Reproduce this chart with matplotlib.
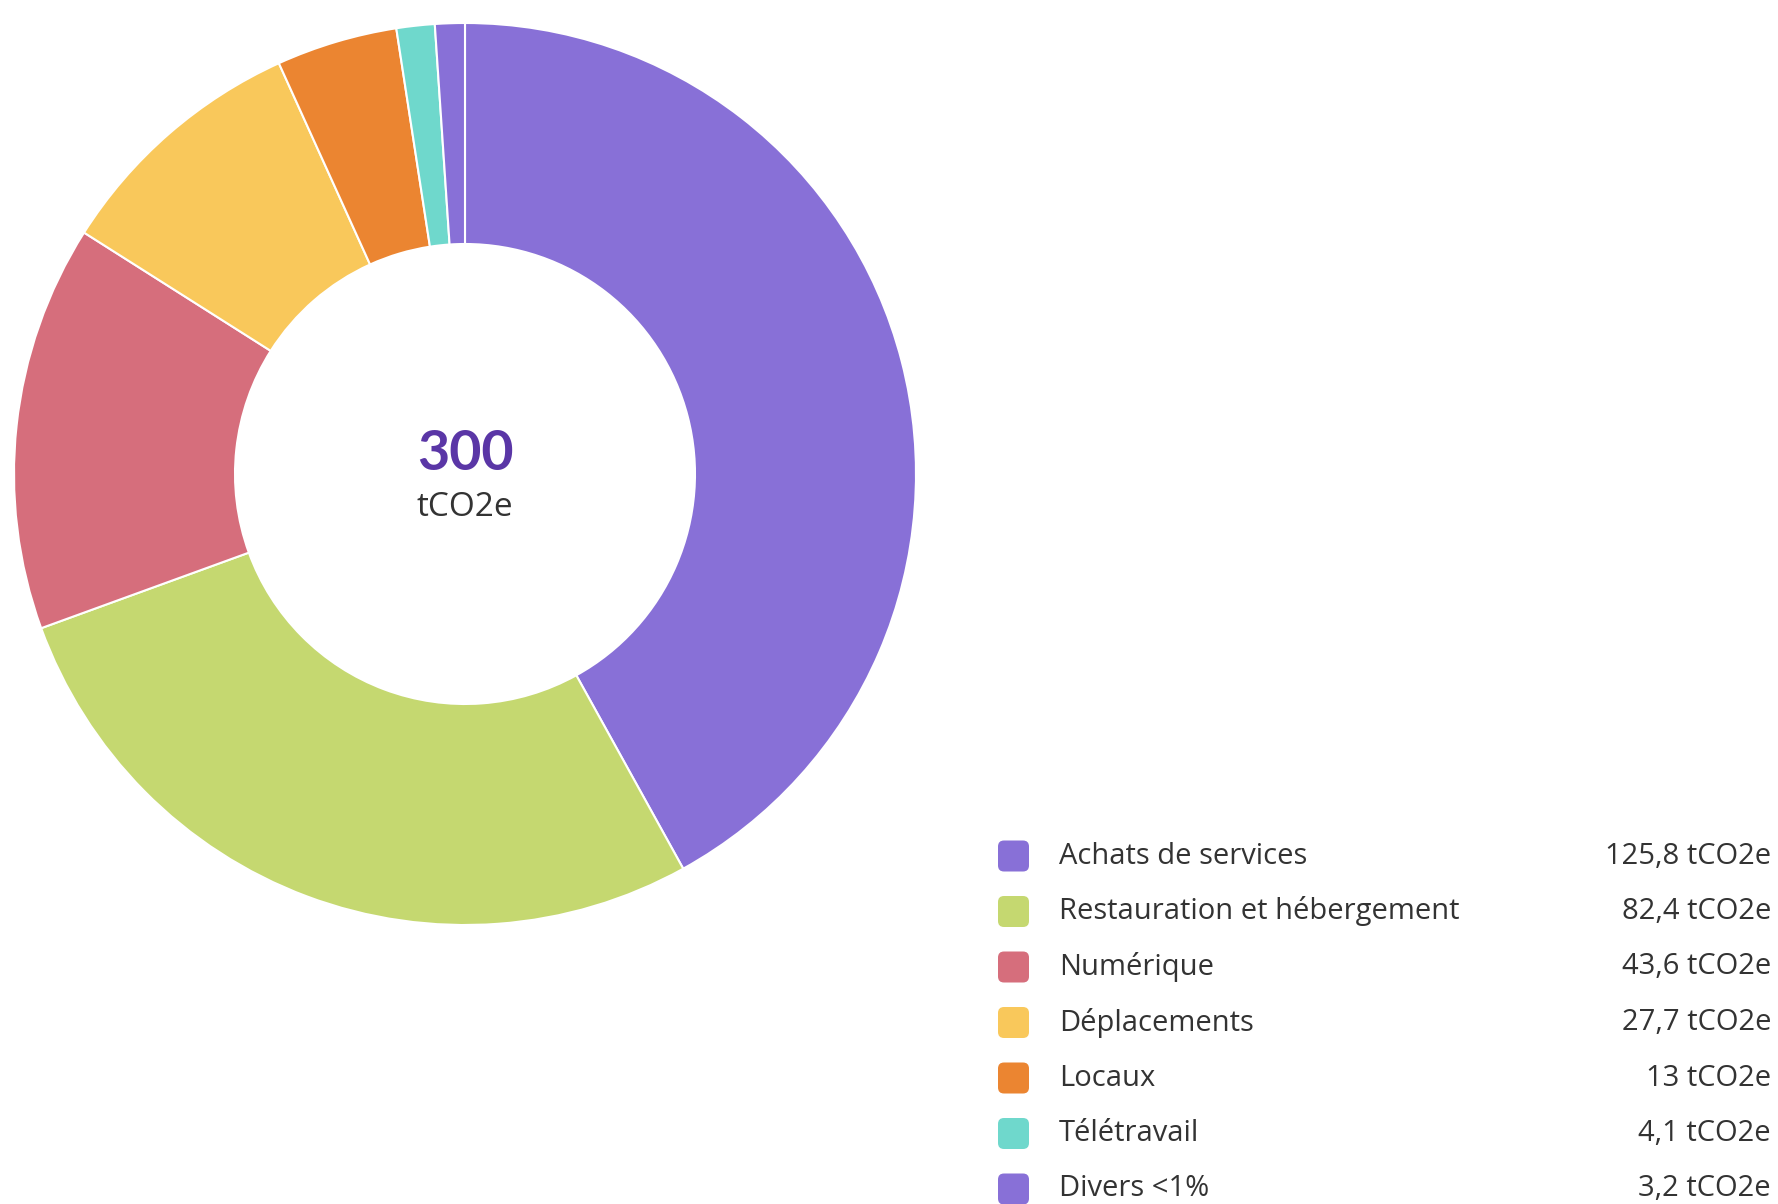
import matplotlib
matplotlib.use("Agg")
import matplotlib.pyplot as plt
from matplotlib.patches import FancyBboxPatch

categories = ["Achats de services", "Restauration et hébergement", "Numérique",
              "Déplacements", "Locaux", "Télétravail", "Divers <1%"]
values = [125.8, 82.4, 43.6, 27.7, 13, 4.1, 3.2]
value_labels = ["125,8 tCO2e", "82,4 tCO2e", "43,6 tCO2e", "27,7 tCO2e",
                "13 tCO2e", "4,1 tCO2e", "3,2 tCO2e"]
colors = ["#8870D7", "#C5D870", "#D66E7C", "#F9C85B", "#EB8531", "#6FD8CC", "#8870D7"]
total_label = "300"
unit_label = "tCO2e"

plt.rcParams['font.family'] = ['Open Sans', 'DejaVu Sans']

W, H = 1778, 1204
fig = plt.figure(figsize=(W / 100, H / 100), dpi=100)
ax = fig.add_axes([0, 0, 1, 1])

cx, cy = 465, H - 474
R, r_in = 451, 230
ax.pie(values, colors=colors, startangle=90, counterclock=False,
       center=(cx, cy), radius=R, frame=True,
       wedgeprops=dict(width=R - r_in, edgecolor="white", linewidth=1.5))
ax.set_xlim(0, W)
ax.set_ylim(0, H)
ax.set_aspect("equal")
ax.axis("off")

ax.text(cx, H - 454, total_label, ha="center", va="center", fontsize=40,
        fontweight="bold", color="#5A36A6", family=['Lato', 'DejaVu Sans'])
ax.text(cx, H - 507, unit_label, ha="center", va="center", fontsize=24,
        color="#333333")

row0, dy = 856, 55.5
for i, (lab, val, col) in enumerate(zip(categories, value_labels, colors)):
    yc = H - (row0 + i * dy)
    sq = 31
    ax.add_patch(FancyBboxPatch((998, yc - sq / 2), sq, sq,
                                boxstyle="round,pad=0,rounding_size=6",
                                facecolor=col, edgecolor="none"))
    ax.text(1059, yc, lab, ha="left", va="center", fontsize=21, color="#333333")
    ax.text(1771, yc, val, ha="right", va="center", fontsize=21, color="#333333")

fig.savefig("out.png", dpi=100, facecolor="white")
